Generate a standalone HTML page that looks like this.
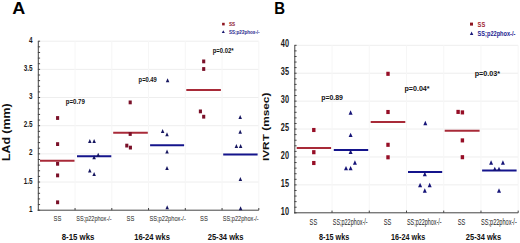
<!DOCTYPE html>
<html><head><meta charset="utf-8"><style>
html,body{margin:0;padding:0;background:#fff;}
body{width:520px;height:243px;overflow:hidden;font-family:"Liberation Sans",sans-serif;}
svg{display:block;}
</style></head><body>
<svg width="520" height="243" viewBox="0 0 520 243" font-family="Liberation Sans, sans-serif">
<rect width="520" height="243" fill="#fff"/>
<line x1="38.30" y1="182.03" x2="258.80" y2="182.03" stroke="#eeeeee" stroke-width="1"/>
<line x1="38.30" y1="153.87" x2="258.80" y2="153.87" stroke="#eeeeee" stroke-width="1"/>
<line x1="38.30" y1="125.70" x2="258.80" y2="125.70" stroke="#eeeeee" stroke-width="1"/>
<line x1="38.30" y1="97.53" x2="258.80" y2="97.53" stroke="#eeeeee" stroke-width="1"/>
<line x1="38.30" y1="69.37" x2="258.80" y2="69.37" stroke="#eeeeee" stroke-width="1"/>
<line x1="38.30" y1="41.20" x2="258.80" y2="41.20" stroke="#eeeeee" stroke-width="1"/>
<line x1="75.05" y1="41.20" x2="75.05" y2="210.20" stroke="#f6f6f6" stroke-width="1"/>
<line x1="111.80" y1="41.20" x2="111.80" y2="210.20" stroke="#f6f6f6" stroke-width="1"/>
<line x1="148.55" y1="41.20" x2="148.55" y2="210.20" stroke="#f6f6f6" stroke-width="1"/>
<line x1="185.30" y1="41.20" x2="185.30" y2="210.20" stroke="#f6f6f6" stroke-width="1"/>
<line x1="222.05" y1="41.20" x2="222.05" y2="210.20" stroke="#f6f6f6" stroke-width="1"/>
<line x1="258.80" y1="41.20" x2="258.80" y2="210.20" stroke="#f6f6f6" stroke-width="1"/>
<line x1="37.90" y1="210.20" x2="40.10" y2="210.20" stroke="#444444" stroke-width="1"/>
<line x1="37.90" y1="204.57" x2="40.10" y2="204.57" stroke="#444444" stroke-width="1"/>
<line x1="37.90" y1="198.93" x2="40.10" y2="198.93" stroke="#444444" stroke-width="1"/>
<line x1="37.90" y1="193.30" x2="40.10" y2="193.30" stroke="#444444" stroke-width="1"/>
<line x1="37.90" y1="187.67" x2="40.10" y2="187.67" stroke="#444444" stroke-width="1"/>
<line x1="37.90" y1="182.03" x2="40.10" y2="182.03" stroke="#444444" stroke-width="1"/>
<line x1="37.90" y1="176.40" x2="40.10" y2="176.40" stroke="#444444" stroke-width="1"/>
<line x1="37.90" y1="170.77" x2="40.10" y2="170.77" stroke="#444444" stroke-width="1"/>
<line x1="37.90" y1="165.13" x2="40.10" y2="165.13" stroke="#444444" stroke-width="1"/>
<line x1="37.90" y1="159.50" x2="40.10" y2="159.50" stroke="#444444" stroke-width="1"/>
<line x1="37.90" y1="153.87" x2="40.10" y2="153.87" stroke="#444444" stroke-width="1"/>
<line x1="37.90" y1="148.23" x2="40.10" y2="148.23" stroke="#444444" stroke-width="1"/>
<line x1="37.90" y1="142.60" x2="40.10" y2="142.60" stroke="#444444" stroke-width="1"/>
<line x1="37.90" y1="136.97" x2="40.10" y2="136.97" stroke="#444444" stroke-width="1"/>
<line x1="37.90" y1="131.33" x2="40.10" y2="131.33" stroke="#444444" stroke-width="1"/>
<line x1="37.90" y1="125.70" x2="40.10" y2="125.70" stroke="#444444" stroke-width="1"/>
<line x1="37.90" y1="120.07" x2="40.10" y2="120.07" stroke="#444444" stroke-width="1"/>
<line x1="37.90" y1="114.43" x2="40.10" y2="114.43" stroke="#444444" stroke-width="1"/>
<line x1="37.90" y1="108.80" x2="40.10" y2="108.80" stroke="#444444" stroke-width="1"/>
<line x1="37.90" y1="103.17" x2="40.10" y2="103.17" stroke="#444444" stroke-width="1"/>
<line x1="37.90" y1="97.53" x2="40.10" y2="97.53" stroke="#444444" stroke-width="1"/>
<line x1="37.90" y1="91.90" x2="40.10" y2="91.90" stroke="#444444" stroke-width="1"/>
<line x1="37.90" y1="86.27" x2="40.10" y2="86.27" stroke="#444444" stroke-width="1"/>
<line x1="37.90" y1="80.63" x2="40.10" y2="80.63" stroke="#444444" stroke-width="1"/>
<line x1="37.90" y1="75.00" x2="40.10" y2="75.00" stroke="#444444" stroke-width="1"/>
<line x1="37.90" y1="69.37" x2="40.10" y2="69.37" stroke="#444444" stroke-width="1"/>
<line x1="37.90" y1="63.73" x2="40.10" y2="63.73" stroke="#444444" stroke-width="1"/>
<line x1="37.90" y1="58.10" x2="40.10" y2="58.10" stroke="#444444" stroke-width="1"/>
<line x1="37.90" y1="52.47" x2="40.10" y2="52.47" stroke="#444444" stroke-width="1"/>
<line x1="37.90" y1="46.83" x2="40.10" y2="46.83" stroke="#444444" stroke-width="1"/>
<line x1="37.90" y1="41.20" x2="40.10" y2="41.20" stroke="#444444" stroke-width="1"/>
<line x1="75.05" y1="208.00" x2="75.05" y2="210.20" stroke="#444444" stroke-width="1"/>
<line x1="111.80" y1="208.00" x2="111.80" y2="210.20" stroke="#444444" stroke-width="1"/>
<line x1="148.55" y1="208.00" x2="148.55" y2="210.20" stroke="#444444" stroke-width="1"/>
<line x1="185.30" y1="208.00" x2="185.30" y2="210.20" stroke="#444444" stroke-width="1"/>
<line x1="222.05" y1="208.00" x2="222.05" y2="210.20" stroke="#444444" stroke-width="1"/>
<line x1="258.80" y1="208.00" x2="258.80" y2="210.20" stroke="#444444" stroke-width="1"/>
<line x1="38.30" y1="41.20" x2="38.30" y2="210.80" stroke="#444444" stroke-width="1.0"/>
<line x1="37.70" y1="210.20" x2="258.80" y2="210.20" stroke="#444444" stroke-width="1.0"/>
<text x="32.50" y="211.80" font-size="8.6" font-weight="bold" fill="#1a1a1a" text-anchor="end" transform="translate(32.50,0) scale(0.74,1) translate(-32.50,0)">1</text>
<text x="32.50" y="183.63" font-size="8.6" font-weight="bold" fill="#1a1a1a" text-anchor="end" transform="translate(32.50,0) scale(0.74,1) translate(-32.50,0)">1.5</text>
<text x="32.50" y="155.47" font-size="8.6" font-weight="bold" fill="#1a1a1a" text-anchor="end" transform="translate(32.50,0) scale(0.74,1) translate(-32.50,0)">2</text>
<text x="32.50" y="127.30" font-size="8.6" font-weight="bold" fill="#1a1a1a" text-anchor="end" transform="translate(32.50,0) scale(0.74,1) translate(-32.50,0)">2.5</text>
<text x="32.50" y="99.13" font-size="8.6" font-weight="bold" fill="#1a1a1a" text-anchor="end" transform="translate(32.50,0) scale(0.74,1) translate(-32.50,0)">3</text>
<text x="32.50" y="70.97" font-size="8.6" font-weight="bold" fill="#1a1a1a" text-anchor="end" transform="translate(32.50,0) scale(0.74,1) translate(-32.50,0)">3.5</text>
<text x="32.50" y="42.80" font-size="8.6" font-weight="bold" fill="#1a1a1a" text-anchor="end" transform="translate(32.50,0) scale(0.74,1) translate(-32.50,0)">4</text>
<text x="12.20" y="14.00" font-size="17.30" font-weight="bold" fill="#000" textLength="13.00" lengthAdjust="spacingAndGlyphs">A</text>
<text transform="translate(9.9,161.0) rotate(-90)" x="0" y="0" font-size="10.6" font-weight="bold" fill="#111" textLength="57.5" lengthAdjust="spacingAndGlyphs">LAd (mm)</text>
<rect x="222.10" y="22.80" width="2.60" height="2.60" fill="#8e1520"/>
<text x="229.00" y="26.20" font-size="5.52" font-weight="bold" fill="#8c2030" textLength="6.20" lengthAdjust="spacingAndGlyphs">SS</text>
<path d="M223.30,30.18L224.80,32.88L221.80,32.88Z" fill="#16166e"/>
<text x="229.00" y="34.10" font-size="5.23" font-weight="bold" fill="#26268c" textLength="30.60" lengthAdjust="spacingAndGlyphs">SS;p22phox-/-</text>
<line x1="40.00" y1="160.70" x2="74.50" y2="160.70" stroke="#a82a38" stroke-width="2.0"/>
<line x1="77.00" y1="156.30" x2="111.30" y2="156.30" stroke="#14148c" stroke-width="2.0"/>
<line x1="113.20" y1="132.70" x2="147.80" y2="132.70" stroke="#a82a38" stroke-width="2.0"/>
<line x1="150.10" y1="145.30" x2="184.10" y2="145.30" stroke="#14148c" stroke-width="2.0"/>
<line x1="186.30" y1="89.90" x2="220.90" y2="89.90" stroke="#a82a38" stroke-width="2.0"/>
<line x1="223.20" y1="154.50" x2="257.60" y2="154.50" stroke="#14148c" stroke-width="2.0"/>
<rect x="56.05" y="116.10" width="3.10" height="3.80" fill="#7a1028"/>
<rect x="56.05" y="142.20" width="3.10" height="3.80" fill="#7a1028"/>
<rect x="56.05" y="161.90" width="3.10" height="3.80" fill="#7a1028"/>
<rect x="56.05" y="173.50" width="3.10" height="3.80" fill="#7a1028"/>
<rect x="56.05" y="200.40" width="3.10" height="3.80" fill="#7a1028"/>
<rect x="128.65" y="100.50" width="3.10" height="3.80" fill="#7a1028"/>
<rect x="128.65" y="132.10" width="3.10" height="3.80" fill="#7a1028"/>
<rect x="125.25" y="143.70" width="3.10" height="3.80" fill="#7a1028"/>
<rect x="128.85" y="145.70" width="3.10" height="3.80" fill="#7a1028"/>
<rect x="202.15" y="59.50" width="3.10" height="3.80" fill="#7a1028"/>
<rect x="202.15" y="67.10" width="3.10" height="3.80" fill="#7a1028"/>
<rect x="198.85" y="109.50" width="3.10" height="3.80" fill="#7a1028"/>
<rect x="202.15" y="114.80" width="3.10" height="3.80" fill="#7a1028"/>
<path d="M89.80,139.10L91.55,143.10L88.05,143.10Z" fill="#161660"/>
<path d="M94.10,139.10L95.85,143.10L92.35,143.10Z" fill="#161660"/>
<path d="M94.10,155.20L95.85,159.20L92.35,159.20Z" fill="#161660"/>
<path d="M98.20,152.70L99.95,156.70L96.45,156.70Z" fill="#161660"/>
<path d="M89.80,168.60L91.55,172.60L88.05,172.60Z" fill="#161660"/>
<path d="M94.10,172.10L95.85,176.10L92.35,176.10Z" fill="#161660"/>
<path d="M167.60,78.20L169.35,82.20L165.85,82.20Z" fill="#161660"/>
<path d="M162.60,129.00L164.35,133.00L160.85,133.00Z" fill="#161660"/>
<path d="M167.00,132.30L168.75,136.30L165.25,136.30Z" fill="#161660"/>
<path d="M167.00,149.40L168.75,153.40L165.25,153.40Z" fill="#161660"/>
<path d="M167.00,166.00L168.75,170.00L165.25,170.00Z" fill="#161660"/>
<path d="M167.20,205.20L168.95,209.20L165.45,209.20Z" fill="#161660"/>
<path d="M240.20,115.00L241.95,119.00L238.45,119.00Z" fill="#161660"/>
<path d="M240.20,129.80L241.95,133.80L238.45,133.80Z" fill="#161660"/>
<path d="M236.40,143.90L238.15,147.90L234.65,147.90Z" fill="#161660"/>
<path d="M240.60,143.90L242.35,147.90L238.85,147.90Z" fill="#161660"/>
<path d="M240.40,177.00L242.15,181.00L238.65,181.00Z" fill="#161660"/>
<path d="M240.60,206.20L242.35,210.20L238.85,210.20Z" fill="#161660"/>
<text x="65.70" y="104.20" font-size="7.85" font-weight="bold" fill="#111" textLength="19.20" lengthAdjust="spacingAndGlyphs">p=0.79</text>
<text x="138.60" y="82.40" font-size="7.70" font-weight="bold" fill="#111" textLength="18.20" lengthAdjust="spacingAndGlyphs">p=0.49</text>
<text x="212.70" y="52.80" font-size="7.85" font-weight="bold" fill="#111" textLength="20.80" lengthAdjust="spacingAndGlyphs">p=0.02*</text>
<text x="53.60" y="221.00" font-size="7.41" font-weight="normal" fill="#222" textLength="7.80" lengthAdjust="spacingAndGlyphs">SS</text>
<text x="126.50" y="221.00" font-size="7.41" font-weight="normal" fill="#222" textLength="7.80" lengthAdjust="spacingAndGlyphs">SS</text>
<text x="200.00" y="221.00" font-size="7.41" font-weight="normal" fill="#222" textLength="7.80" lengthAdjust="spacingAndGlyphs">SS</text>
<text x="76.30" y="221.00" font-size="7.41" font-weight="normal" fill="#222" textLength="35.30" lengthAdjust="spacingAndGlyphs">SS;p22phox-/-</text>
<text x="149.40" y="221.00" font-size="7.41" font-weight="normal" fill="#222" textLength="36.40" lengthAdjust="spacingAndGlyphs">SS;p22phox-/-</text>
<text x="222.80" y="221.00" font-size="7.41" font-weight="normal" fill="#222" textLength="35.90" lengthAdjust="spacingAndGlyphs">SS;p22phox-/-</text>
<text x="61.70" y="239.60" font-size="9.45" font-weight="bold" fill="#111" textLength="32.70" lengthAdjust="spacingAndGlyphs">8-15 wks</text>
<text x="134.20" y="239.60" font-size="9.45" font-weight="bold" fill="#111" textLength="35.70" lengthAdjust="spacingAndGlyphs">16-24 wks</text>
<text x="207.70" y="239.60" font-size="9.45" font-weight="bold" fill="#111" textLength="35.80" lengthAdjust="spacingAndGlyphs">25-34 wks</text>
<line x1="294.80" y1="184.88" x2="518.20" y2="184.88" stroke="#eeeeee" stroke-width="1"/>
<line x1="294.80" y1="156.97" x2="518.20" y2="156.97" stroke="#eeeeee" stroke-width="1"/>
<line x1="294.80" y1="129.05" x2="518.20" y2="129.05" stroke="#eeeeee" stroke-width="1"/>
<line x1="294.80" y1="101.13" x2="518.20" y2="101.13" stroke="#eeeeee" stroke-width="1"/>
<line x1="294.80" y1="73.22" x2="518.20" y2="73.22" stroke="#eeeeee" stroke-width="1"/>
<line x1="294.80" y1="45.30" x2="518.20" y2="45.30" stroke="#eeeeee" stroke-width="1"/>
<line x1="332.03" y1="45.30" x2="332.03" y2="212.80" stroke="#f6f6f6" stroke-width="1"/>
<line x1="369.27" y1="45.30" x2="369.27" y2="212.80" stroke="#f6f6f6" stroke-width="1"/>
<line x1="406.50" y1="45.30" x2="406.50" y2="212.80" stroke="#f6f6f6" stroke-width="1"/>
<line x1="443.73" y1="45.30" x2="443.73" y2="212.80" stroke="#f6f6f6" stroke-width="1"/>
<line x1="480.97" y1="45.30" x2="480.97" y2="212.80" stroke="#f6f6f6" stroke-width="1"/>
<line x1="518.20" y1="45.30" x2="518.20" y2="212.80" stroke="#f6f6f6" stroke-width="1"/>
<line x1="294.40" y1="212.80" x2="296.60" y2="212.80" stroke="#444444" stroke-width="1"/>
<line x1="294.40" y1="207.22" x2="296.60" y2="207.22" stroke="#444444" stroke-width="1"/>
<line x1="294.40" y1="201.63" x2="296.60" y2="201.63" stroke="#444444" stroke-width="1"/>
<line x1="294.40" y1="196.05" x2="296.60" y2="196.05" stroke="#444444" stroke-width="1"/>
<line x1="294.40" y1="190.47" x2="296.60" y2="190.47" stroke="#444444" stroke-width="1"/>
<line x1="294.40" y1="184.88" x2="296.60" y2="184.88" stroke="#444444" stroke-width="1"/>
<line x1="294.40" y1="179.30" x2="296.60" y2="179.30" stroke="#444444" stroke-width="1"/>
<line x1="294.40" y1="173.72" x2="296.60" y2="173.72" stroke="#444444" stroke-width="1"/>
<line x1="294.40" y1="168.13" x2="296.60" y2="168.13" stroke="#444444" stroke-width="1"/>
<line x1="294.40" y1="162.55" x2="296.60" y2="162.55" stroke="#444444" stroke-width="1"/>
<line x1="294.40" y1="156.97" x2="296.60" y2="156.97" stroke="#444444" stroke-width="1"/>
<line x1="294.40" y1="151.38" x2="296.60" y2="151.38" stroke="#444444" stroke-width="1"/>
<line x1="294.40" y1="145.80" x2="296.60" y2="145.80" stroke="#444444" stroke-width="1"/>
<line x1="294.40" y1="140.22" x2="296.60" y2="140.22" stroke="#444444" stroke-width="1"/>
<line x1="294.40" y1="134.63" x2="296.60" y2="134.63" stroke="#444444" stroke-width="1"/>
<line x1="294.40" y1="129.05" x2="296.60" y2="129.05" stroke="#444444" stroke-width="1"/>
<line x1="294.40" y1="123.47" x2="296.60" y2="123.47" stroke="#444444" stroke-width="1"/>
<line x1="294.40" y1="117.88" x2="296.60" y2="117.88" stroke="#444444" stroke-width="1"/>
<line x1="294.40" y1="112.30" x2="296.60" y2="112.30" stroke="#444444" stroke-width="1"/>
<line x1="294.40" y1="106.72" x2="296.60" y2="106.72" stroke="#444444" stroke-width="1"/>
<line x1="294.40" y1="101.13" x2="296.60" y2="101.13" stroke="#444444" stroke-width="1"/>
<line x1="294.40" y1="95.55" x2="296.60" y2="95.55" stroke="#444444" stroke-width="1"/>
<line x1="294.40" y1="89.97" x2="296.60" y2="89.97" stroke="#444444" stroke-width="1"/>
<line x1="294.40" y1="84.38" x2="296.60" y2="84.38" stroke="#444444" stroke-width="1"/>
<line x1="294.40" y1="78.80" x2="296.60" y2="78.80" stroke="#444444" stroke-width="1"/>
<line x1="294.40" y1="73.22" x2="296.60" y2="73.22" stroke="#444444" stroke-width="1"/>
<line x1="294.40" y1="67.63" x2="296.60" y2="67.63" stroke="#444444" stroke-width="1"/>
<line x1="294.40" y1="62.05" x2="296.60" y2="62.05" stroke="#444444" stroke-width="1"/>
<line x1="294.40" y1="56.47" x2="296.60" y2="56.47" stroke="#444444" stroke-width="1"/>
<line x1="294.40" y1="50.88" x2="296.60" y2="50.88" stroke="#444444" stroke-width="1"/>
<line x1="294.40" y1="45.30" x2="296.60" y2="45.30" stroke="#444444" stroke-width="1"/>
<line x1="332.03" y1="210.60" x2="332.03" y2="212.80" stroke="#444444" stroke-width="1"/>
<line x1="369.27" y1="210.60" x2="369.27" y2="212.80" stroke="#444444" stroke-width="1"/>
<line x1="406.50" y1="210.60" x2="406.50" y2="212.80" stroke="#444444" stroke-width="1"/>
<line x1="443.73" y1="210.60" x2="443.73" y2="212.80" stroke="#444444" stroke-width="1"/>
<line x1="480.97" y1="210.60" x2="480.97" y2="212.80" stroke="#444444" stroke-width="1"/>
<line x1="518.20" y1="210.60" x2="518.20" y2="212.80" stroke="#444444" stroke-width="1"/>
<line x1="294.80" y1="45.30" x2="294.80" y2="213.40" stroke="#444444" stroke-width="1.0"/>
<line x1="294.20" y1="212.80" x2="518.20" y2="212.80" stroke="#444444" stroke-width="1.0"/>
<text x="289.00" y="214.90" font-size="10.8" font-weight="bold" fill="#1a1a1a" text-anchor="end" transform="translate(289.00,0) scale(0.68,1) translate(-289.00,0)">10</text>
<text x="289.00" y="186.98" font-size="10.8" font-weight="bold" fill="#1a1a1a" text-anchor="end" transform="translate(289.00,0) scale(0.68,1) translate(-289.00,0)">15</text>
<text x="289.00" y="159.07" font-size="10.8" font-weight="bold" fill="#1a1a1a" text-anchor="end" transform="translate(289.00,0) scale(0.68,1) translate(-289.00,0)">20</text>
<text x="289.00" y="131.15" font-size="10.8" font-weight="bold" fill="#1a1a1a" text-anchor="end" transform="translate(289.00,0) scale(0.68,1) translate(-289.00,0)">25</text>
<text x="289.00" y="103.23" font-size="10.8" font-weight="bold" fill="#1a1a1a" text-anchor="end" transform="translate(289.00,0) scale(0.68,1) translate(-289.00,0)">30</text>
<text x="289.00" y="75.32" font-size="10.8" font-weight="bold" fill="#1a1a1a" text-anchor="end" transform="translate(289.00,0) scale(0.68,1) translate(-289.00,0)">35</text>
<text x="289.00" y="47.40" font-size="10.8" font-weight="bold" fill="#1a1a1a" text-anchor="end" transform="translate(289.00,0) scale(0.68,1) translate(-289.00,0)">40</text>
<text x="274.20" y="14.00" font-size="17.30" font-weight="bold" fill="#000" textLength="10.80" lengthAdjust="spacingAndGlyphs">B</text>
<text transform="translate(269.3,161.1) rotate(-90)" x="0" y="0" font-size="8.8" font-weight="bold" fill="#111" textLength="68.5" lengthAdjust="spacingAndGlyphs">IVRT (msec)</text>
<rect x="470.00" y="22.60" width="3.00" height="3.00" fill="#8e1520"/>
<text x="477.60" y="27.40" font-size="7.56" font-weight="bold" fill="#a02530" textLength="7.60" lengthAdjust="spacingAndGlyphs">SS</text>
<path d="M471.60,31.44L473.30,35.04L469.90,35.04Z" fill="#18187a"/>
<text x="477.60" y="36.20" font-size="7.56" font-weight="bold" fill="#222290" textLength="37.80" lengthAdjust="spacingAndGlyphs">SS;p22phox-/-</text>
<line x1="296.70" y1="148.00" x2="331.10" y2="148.00" stroke="#a82a38" stroke-width="2.0"/>
<line x1="333.80" y1="150.00" x2="368.20" y2="150.00" stroke="#14148c" stroke-width="2.0"/>
<line x1="370.70" y1="121.90" x2="405.30" y2="121.90" stroke="#a82a38" stroke-width="2.0"/>
<line x1="408.00" y1="171.90" x2="442.20" y2="171.90" stroke="#14148c" stroke-width="2.0"/>
<line x1="444.70" y1="130.70" x2="479.60" y2="130.70" stroke="#a82a38" stroke-width="2.0"/>
<line x1="482.10" y1="170.60" x2="516.60" y2="170.60" stroke="#14148c" stroke-width="2.0"/>
<rect x="312.10" y="127.95" width="3.40" height="4.10" fill="#960e26"/>
<rect x="312.10" y="150.15" width="3.40" height="4.10" fill="#960e26"/>
<rect x="312.10" y="160.95" width="3.40" height="4.10" fill="#960e26"/>
<rect x="386.30" y="71.75" width="3.40" height="4.10" fill="#960e26"/>
<rect x="386.30" y="109.95" width="3.40" height="4.10" fill="#960e26"/>
<rect x="386.30" y="142.75" width="3.40" height="4.10" fill="#960e26"/>
<rect x="386.30" y="155.25" width="3.40" height="4.10" fill="#960e26"/>
<rect x="456.40" y="109.85" width="3.40" height="4.10" fill="#960e26"/>
<rect x="460.70" y="110.35" width="3.40" height="4.10" fill="#960e26"/>
<rect x="460.70" y="138.35" width="3.40" height="4.10" fill="#960e26"/>
<rect x="460.70" y="155.15" width="3.40" height="4.10" fill="#960e26"/>
<path d="M350.60,110.26L352.60,114.66L348.60,114.66Z" fill="#161478"/>
<path d="M350.60,132.66L352.60,137.06L348.60,137.06Z" fill="#161478"/>
<path d="M350.60,149.56L352.60,153.96L348.60,153.96Z" fill="#161478"/>
<path d="M354.90,160.36L356.90,164.76L352.90,164.76Z" fill="#161478"/>
<path d="M346.00,165.96L348.00,170.36L344.00,170.36Z" fill="#161478"/>
<path d="M350.60,165.96L352.60,170.36L348.60,170.36Z" fill="#161478"/>
<path d="M425.30,120.86L427.30,125.26L423.30,125.26Z" fill="#161478"/>
<path d="M424.80,171.86L426.80,176.26L422.80,176.26Z" fill="#161478"/>
<path d="M420.10,182.86L422.10,187.26L418.10,187.26Z" fill="#161478"/>
<path d="M429.70,182.86L431.70,187.26L427.70,187.26Z" fill="#161478"/>
<path d="M424.80,188.36L426.80,192.76L422.80,192.76Z" fill="#161478"/>
<path d="M491.10,160.26L493.10,164.66L489.10,164.66Z" fill="#161478"/>
<path d="M502.90,160.26L504.90,164.66L500.90,164.66Z" fill="#161478"/>
<path d="M494.80,166.66L496.80,171.06L492.80,171.06Z" fill="#161478"/>
<path d="M499.00,166.66L501.00,171.06L497.00,171.06Z" fill="#161478"/>
<path d="M499.00,188.26L501.00,192.66L497.00,192.66Z" fill="#161478"/>
<text x="321.20" y="100.10" font-size="7.12" font-weight="bold" fill="#111" textLength="21.80" lengthAdjust="spacingAndGlyphs">p=0.89</text>
<text x="404.50" y="91.30" font-size="7.12" font-weight="bold" fill="#111" textLength="25.10" lengthAdjust="spacingAndGlyphs">p=0.04*</text>
<text x="474.70" y="76.20" font-size="7.27" font-weight="bold" fill="#111" textLength="25.50" lengthAdjust="spacingAndGlyphs">p=0.03*</text>
<text x="309.60" y="225.40" font-size="8.14" font-weight="normal" fill="#222" textLength="7.60" lengthAdjust="spacingAndGlyphs">SS</text>
<text x="383.80" y="225.40" font-size="8.14" font-weight="normal" fill="#222" textLength="7.60" lengthAdjust="spacingAndGlyphs">SS</text>
<text x="457.70" y="225.40" font-size="8.14" font-weight="normal" fill="#222" textLength="7.60" lengthAdjust="spacingAndGlyphs">SS</text>
<text x="332.80" y="225.40" font-size="8.14" font-weight="normal" fill="#222" textLength="34.80" lengthAdjust="spacingAndGlyphs">SS;p22phox-/-</text>
<text x="407.00" y="225.40" font-size="8.14" font-weight="normal" fill="#222" textLength="34.60" lengthAdjust="spacingAndGlyphs">SS;p22phox-/-</text>
<text x="481.00" y="225.40" font-size="8.14" font-weight="normal" fill="#222" textLength="35.80" lengthAdjust="spacingAndGlyphs">SS;p22phox-/-</text>
<text x="319.00" y="240.30" font-size="9.30" font-weight="bold" fill="#111" textLength="30.20" lengthAdjust="spacingAndGlyphs">8-15 wks</text>
<text x="391.10" y="240.30" font-size="9.30" font-weight="bold" fill="#111" textLength="34.10" lengthAdjust="spacingAndGlyphs">16-24 wks</text>
<text x="465.80" y="240.30" font-size="9.30" font-weight="bold" fill="#111" textLength="35.40" lengthAdjust="spacingAndGlyphs">25-34 wks</text>
</svg>
</body></html>
